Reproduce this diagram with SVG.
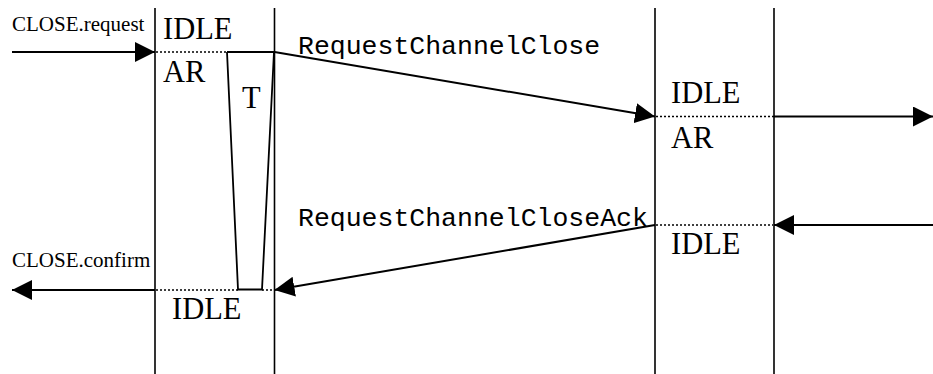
<svg xmlns="http://www.w3.org/2000/svg" width="933" height="374" viewBox="0 0 933 374">
  <style>
    .life { stroke: #000; stroke-width: 1.6; fill: none; }
    .msg { stroke: #000; stroke-width: 2; fill: none; marker-end: url(#arrow); }
    .dot { stroke: #000; stroke-width: 1.4; stroke-dasharray: 2 2; fill: none; }
    .timer { stroke: #000; stroke-width: 1.8; fill: none; }
    .state { font-family: "Liberation Serif", "Times New Roman", serif; font-size: 30.5px; fill: #000; }
    .prim { font-family: "Liberation Serif", "Times New Roman", serif; font-size: 21px; fill: #000; }
    .pdu { font-family: "Liberation Mono", "Courier New", monospace; font-size: 26.5px; fill: #000; }
  </style>
  <defs>
    <marker id="arrow" markerUnits="userSpaceOnUse" markerWidth="20" markerHeight="20" refX="20" refY="10" orient="auto">
      <path d="M0,0 L20,10 L0,20 z" fill="#000"/>
    </marker>
  </defs>
  <rect width="933" height="374" fill="#fff"/>

  <!-- local entity: two lifelines -->
  <g id="local-entity">
    <line class="life" x1="155" y1="8" x2="155" y2="374"/>
    <line class="life" x1="274.5" y1="8" x2="274.5" y2="374"/>
    <text class="state" x="163" y="39">IDLE</text>
    <text class="state" x="163" y="82">AR</text>
    <text class="state" x="172" y="319">IDLE</text>
  </g>

  <!-- timer T -->
  <g id="timer">
    <polyline class="timer" points="227,52 238,289.5 262,289.5 274,52"/>
    <text class="state" x="242" y="108">T</text>
  </g>

  <!-- remote entity: two lifelines -->
  <g id="remote-entity">
    <line class="life" x1="655" y1="8" x2="655" y2="374"/>
    <line class="life" x1="774" y1="8" x2="774" y2="374"/>
    <text class="state" x="671" y="103">IDLE</text>
    <text class="state" x="671" y="148">AR</text>
    <text class="state" x="671" y="254">IDLE</text>
  </g>

  <!-- primitives and PDUs -->
  <g id="connectors">
    <line class="msg" x1="12" y1="52" x2="155" y2="52"/>
    <line class="dot" x1="156" y1="52" x2="227" y2="52"/>
    <line class="timer" x1="227" y1="52" x2="274.5" y2="52"/>
    <line class="msg" x1="274.5" y1="52" x2="655" y2="116.5"/>
    <line class="dot" x1="656" y1="116.5" x2="774" y2="116.5"/>
    <line class="msg" x1="774" y1="116.5" x2="933" y2="116.5"/>
    <line class="msg" x1="933" y1="225" x2="774" y2="225"/>
    <line class="dot" x1="656" y1="225" x2="773" y2="225"/>
    <line class="msg" x1="655" y1="225" x2="274.5" y2="290"/>
    <line class="dot" x1="156" y1="290" x2="238" y2="290"/>
    <line class="dot" x1="262" y1="290" x2="274" y2="290"/>
    <line class="msg" x1="155" y1="290" x2="12" y2="290"/>
  </g>

  <g id="labels">
    <text class="prim" x="12" y="31">CLOSE.request</text>
    <text class="prim" x="12" y="267">CLOSE.confirm</text>
    <text class="pdu" x="298" y="54">RequestChannelClose</text>
    <text class="pdu" x="298" y="226">RequestChannelCloseAck</text>
  </g>
</svg>
